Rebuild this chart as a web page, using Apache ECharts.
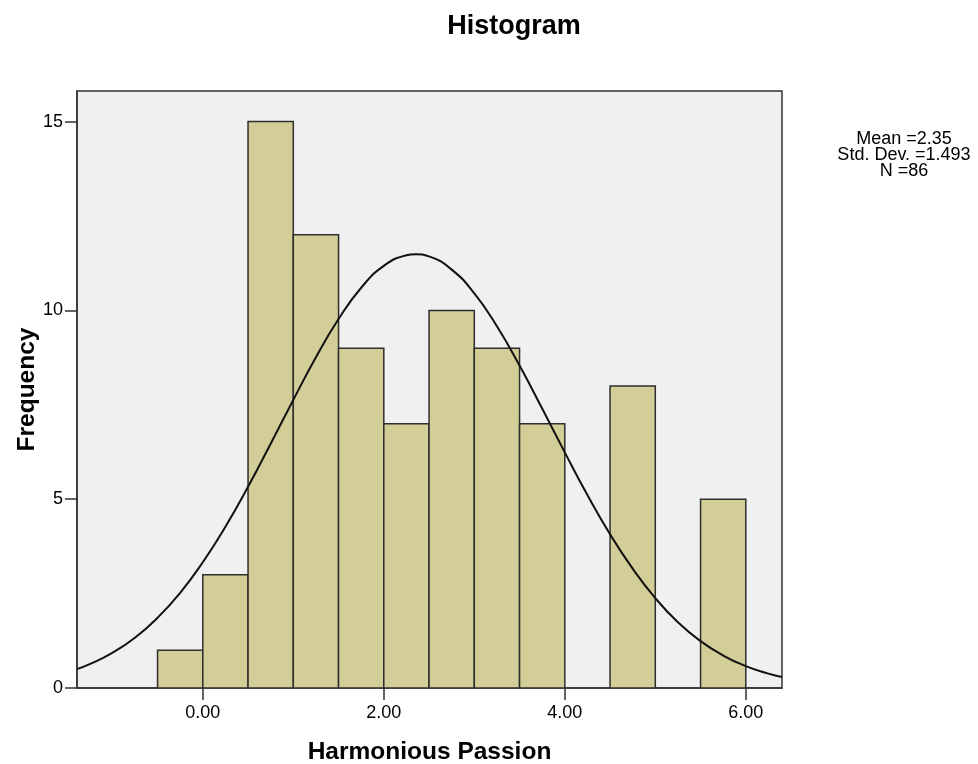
<!DOCTYPE html>
<html>
<head>
<meta charset="utf-8">
<script src="https://cdn.jsdelivr.net/npm/echarts@6/dist/echarts.min.js"></script>
<style>
html,body{margin:0;padding:0;background:#fff;}
#chart{width:978px;height:764px;}
</style>
</head>
<body>
<div id="chart"></div>
<script>
// Histogram bins (width 0.5)
var binStart = [-0.5, 0.0, 0.5, 1.0, 1.5, 2.0, 2.5, 3.0, 3.5, 4.0, 4.5, 5.0, 5.5];
var binEnd   = [ 0.0, 0.5, 1.0, 1.5, 2.0, 2.5, 3.0, 3.5, 4.0, 4.5, 5.0, 5.5, 6.0];
var binCount = [1, 3, 15, 12, 9, 7, 10, 9, 7, 0, 8, 0, 5];

// Normal curve
var curveX = [-1.39, -1.25, -1.0, -0.75, -0.5, -0.25, 0.0, 0.25, 0.5, 0.75, 1.0, 1.25, 1.5, 1.75, 2.0, 2.25, 2.35, 2.5, 2.75, 3.0, 3.25, 3.5, 3.75, 4.0, 4.25, 4.5, 4.75, 5.0, 5.25, 5.5, 5.75, 6.0, 6.25, 6.40];
var curveY = [0.50, 0.63, 0.93, 1.33, 1.86, 2.52, 3.33, 4.27, 5.33, 6.47, 7.63, 8.76, 9.77, 10.60, 11.18, 11.46, 11.49, 11.43, 11.08, 10.45, 9.58, 8.54, 7.40, 6.24, 5.11, 4.07, 3.16, 2.38, 1.74, 1.24, 0.86, 0.58, 0.38, 0.29];

var xTicks = [0, 2, 4, 6];
var yTicks = [0, 5, 10, 15];
var statLines = ['Mean =2.35', 'Std. Dev. =1.493', 'N =86'];
var titleText = 'Histogram';
var xName = 'Harmonious Passion';
var yName = 'Frequency';

var FONT = '"Liberation Sans", Arial, sans-serif';

var barData = binStart.map(function (s, i) { return [s, binEnd[i], binCount[i]]; });
var lineData = curveX.map(function (x, i) { return [x, curveY[i]]; });

var chart = echarts.init(document.getElementById('chart'), null, {renderer: 'canvas'});
chart.setOption({
  animation: false,
  backgroundColor: '#ffffff',
  title: {
    text: titleText,
    left: 509, top: 8, textAlign: 'center',
    textStyle: {fontFamily: FONT, fontWeight: 'bold', fontSize: 27, color: '#000'}
  },
  grid: {
    left: 77, right: 196, top: 91, bottom: 76,
    containLabel: false, outerBoundsMode: 'none',
    show: true, backgroundColor: '#f0f0f0', borderColor: '#333', borderWidth: 1.5
  },
  xAxis: {
    type: 'value', min: -1.39, max: 6.40,
    name: xName, nameLocation: 'middle', nameGap: 52, nameMoveOverlap: false,
    nameTextStyle: {fontFamily: FONT, fontWeight: 'bold', fontSize: 24.5, color: '#000'},
    splitLine: {show: false},
    axisLine: {show: true, onZero: false, lineStyle: {color: '#333', width: 1.5}},
    axisTick: {show: true, customValues: xTicks, length: 12, lineStyle: {color: '#333', width: 1.5}},
    axisLabel: {customValues: xTicks, margin: 16, fontFamily: FONT, fontSize: 18, color: '#000',
      formatter: function (v) { return v.toFixed(2); }}
  },
  yAxis: {
    type: 'value', min: 0, max: 15.81,
    name: yName, nameLocation: 'middle', nameGap: 37, nameRotate: 90, nameMoveOverlap: false,
    nameTextStyle: {fontFamily: FONT, fontWeight: 'bold', fontSize: 24.5, color: '#000'},
    splitLine: {show: false},
    axisLine: {show: true, onZero: false, lineStyle: {color: '#333', width: 1.5}},
    axisTick: {show: true, customValues: yTicks, length: 12, lineStyle: {color: '#333', width: 1.5}},
    axisLabel: {customValues: yTicks, margin: 14, fontFamily: FONT, fontSize: 18, color: '#000'}
  },
  graphic: [{
    type: 'text', x: 904, y: 131, z: 10,
    style: {
      text: statLines.join('\n'),
      font: '18px ' + FONT, fill: '#000', align: 'center', verticalAlign: 'top', lineHeight: 16
    }
  }],
  series: [{
    type: 'custom',
    data: barData,
    encode: {x: [0, 1], y: 2},
    clip: true,
    renderItem: function (params, api) {
      var h = api.value(2);
      if (!h) return null;
      var p0 = api.coord([api.value(0), h]);
      var p1 = api.coord([api.value(1), 0]);
      return {
        type: 'rect',
        shape: {x: p0[0], y: p0[1], width: p1[0] - p0[0], height: p1[1] - p0[1]},
        style: {fill: '#d3ce97', stroke: '#2e2e2e', lineWidth: 1.5}
      };
    },
    z: 2
  }, {
    type: 'line',
    data: lineData,
    smooth: true,
    showSymbol: false,
    clip: true,
    lineStyle: {color: '#111', width: 2},
    z: 3
  }]
});
</script>
</body>
</html>
